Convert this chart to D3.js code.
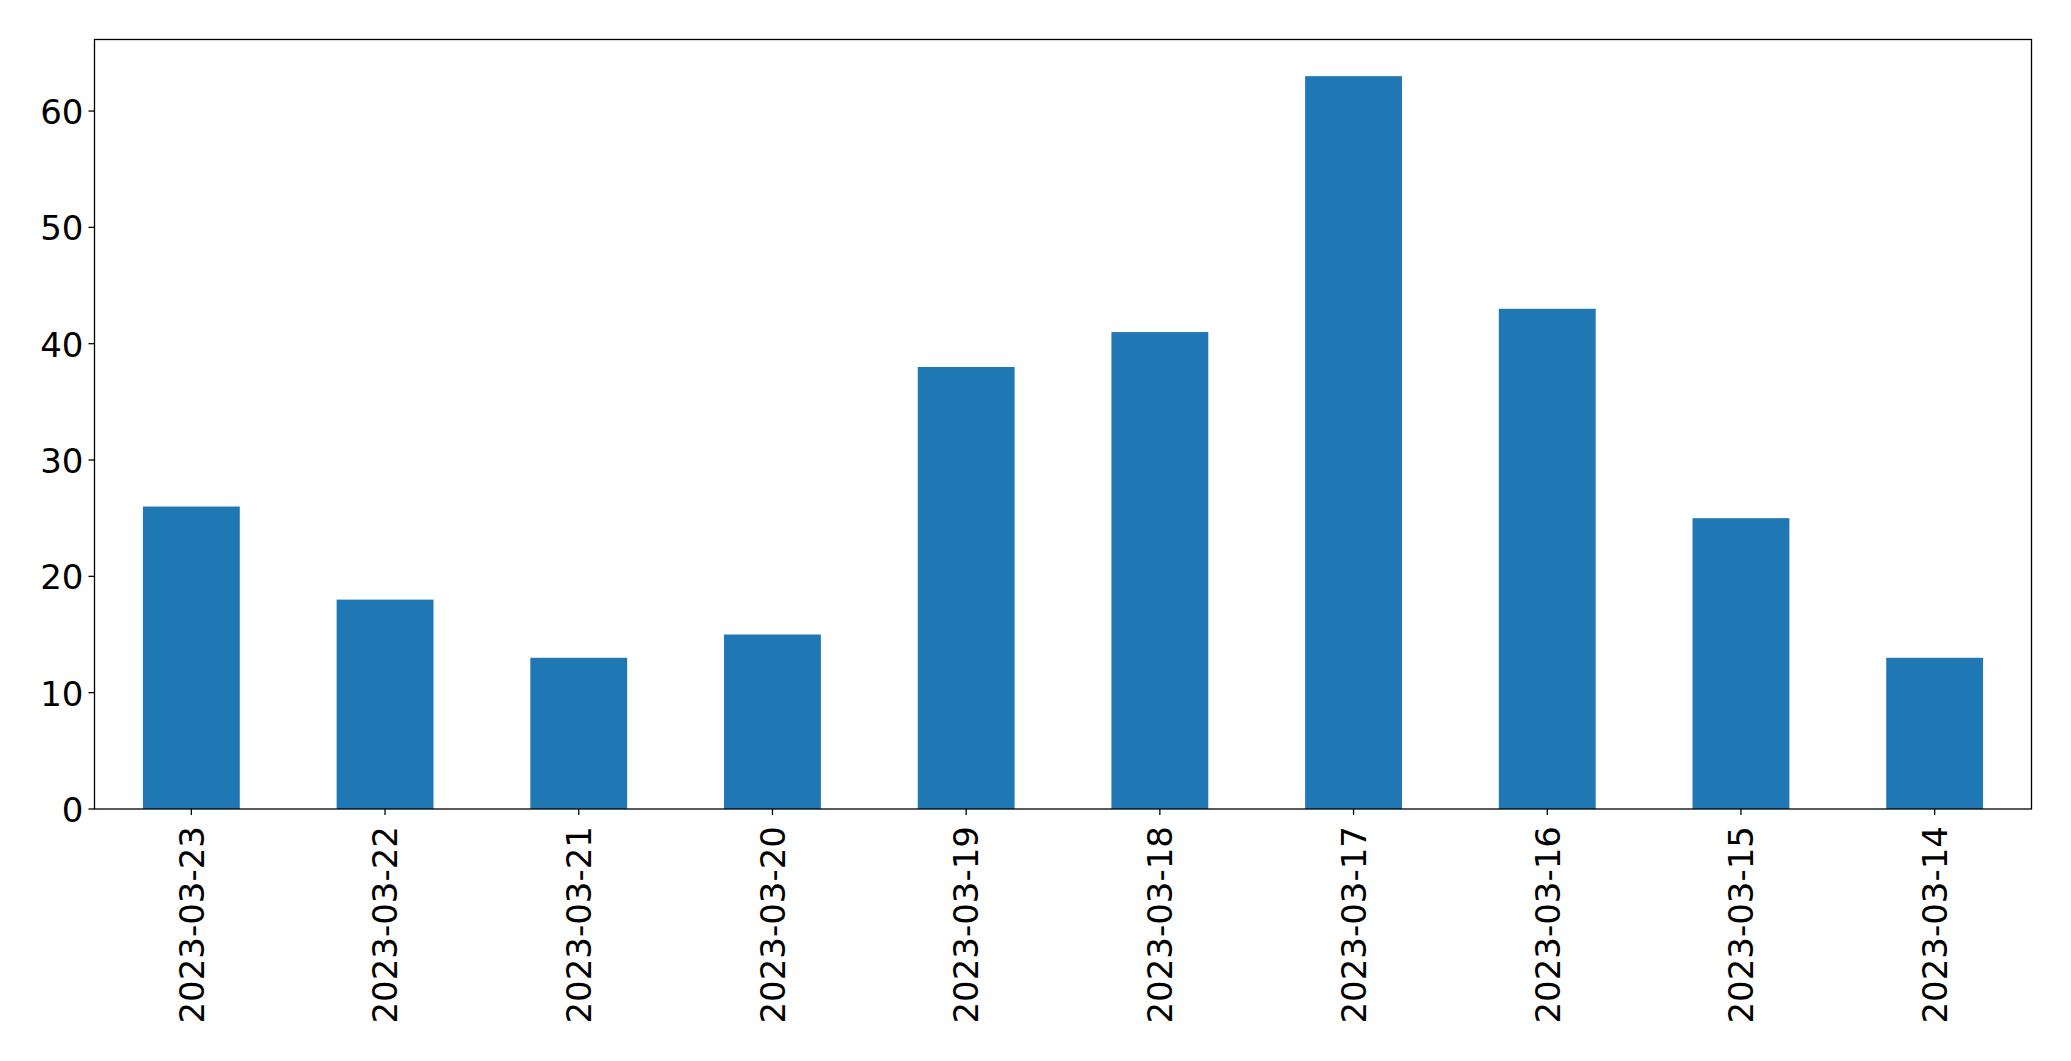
<!DOCTYPE html>
<html>
<head>
<meta charset="utf-8">
<script src="https://cdn.jsdelivr.net/npm/d3@7"></script>
<style>
  body { margin: 0; background: #fff; }
  text { font-family: "DejaVu Sans", sans-serif; }
</style>
</head>
<body>
<div id="chart"></div>
<script>
const dates = ["2023-03-23", "2023-03-22", "2023-03-21", "2023-03-20", "2023-03-19",
  "2023-03-18", "2023-03-17", "2023-03-16", "2023-03-15", "2023-03-14"];
const counts = [26, 18, 13, 15, 38, 41, 63, 43, 25, 13];
const yTicks = [0, 10, 20, 30, 40, 50, 60];

const width = 2071, height = 1061;
const margin = { left: 94.5, top: 39.5, right: 2031.5, bottom: 809 };
const fontSize = 34;

const svg = d3.select("#chart").append("svg")
  .attr("width", width).attr("height", height);

// matplotlib-style categorical axis: positions 0..n-1, limits [-0.5, n-0.5]
const x = d3.scaleLinear()
  .domain([-0.5, dates.length - 0.5])
  .range([margin.left, margin.right]);
const y = d3.scaleLinear()
  .domain([0, d3.max(counts) * 1.05])
  .range([margin.bottom, margin.top]);

const barWidth = 0.5;

svg.append("g")
  .selectAll("rect")
  .data(counts)
  .join("rect")
  .attr("x", (d, i) => x(i - barWidth / 2))
  .attr("width", x(barWidth) - x(0))
  .attr("y", d => y(d))
  .attr("height", d => y(0) - y(d))
  .attr("fill", "#1f77b4");

// y axis ticks
const yAxis = svg.append("g");
yAxis.selectAll("line")
  .data(yTicks)
  .join("line")
  .attr("x1", margin.left - 6).attr("x2", margin.left)
  .attr("y1", d => y(d)).attr("y2", d => y(d))
  .attr("stroke", "#000").attr("stroke-width", 1.3);
yAxis.selectAll("text")
  .data(yTicks)
  .join("text")
  .attr("x", margin.left - 11)
  .attr("y", d => y(d))
  .attr("dy", "0.38em")
  .attr("text-anchor", "end")
  .attr("font-size", fontSize)
  .text(d => d);

// x axis ticks
const xAxis = svg.append("g");
xAxis.selectAll("line")
  .data(dates)
  .join("line")
  .attr("x1", (d, i) => x(i)).attr("x2", (d, i) => x(i))
  .attr("y1", margin.bottom).attr("y2", margin.bottom + 6)
  .attr("stroke", "#000").attr("stroke-width", 1.3);
xAxis.selectAll("text")
  .data(dates)
  .join("text")
  .attr("transform", (d, i) => `translate(${x(i)},${margin.bottom + 17}) rotate(-90)`)
  .attr("dy", "0.36em")
  .attr("text-anchor", "end")
  .attr("font-size", fontSize)
  .text(d => d);

// frame
svg.append("rect")
  .attr("x", margin.left).attr("y", margin.top)
  .attr("width", margin.right - margin.left)
  .attr("height", margin.bottom - margin.top)
  .attr("fill", "none")
  .attr("stroke", "#000")
  .attr("stroke-width", 1.3);
</script>
</body>
</html>
